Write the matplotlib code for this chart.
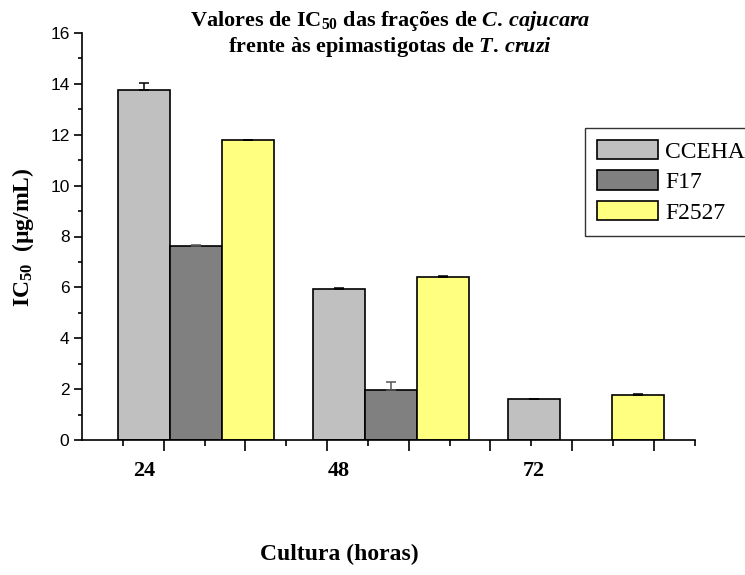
import numpy as np
import matplotlib.pyplot as plt
from matplotlib.ticker import FixedLocator, MultipleLocator

# IC50 values (ug/mL)
hours = ["24", "48", "72"]
series = ["CCEHA", "F17", "F2527"]
ccehA = [13.75, 5.93, 1.60]
f17 = [7.62, 1.97, np.nan]
f2527 = [11.78, 6.42, 1.78]
ccehA_err = [0.30, 0.03, 0.03]
f17_err = [0.05, 0.32, np.nan]
f2527_err = [0.03, 0.03, 0.03]

values = [ccehA, f17, f2527]
errors = [ccehA_err, f17_err, f2527_err]
colors = ["#c0c0c0", "#808080", "#ffff80"]
ecolors = ["black", "#555555", "black"]

plt.rcParams["font.family"] = "Liberation Serif"
plt.rcParams["mathtext.fontset"] = "custom"
plt.rcParams["mathtext.rm"] = "Liberation Serif:bold"
plt.rcParams["mathtext.it"] = "Liberation Serif:italic:bold"
plt.rcParams["mathtext.bf"] = "Liberation Serif:bold"

fig = plt.figure(figsize=(7.45, 5.75), dpi=100)
ax = fig.add_axes([82 / 745, 1 - 440 / 575, (695 - 82) / 745, (440 - 33) / 575])

w = 0.2667
x = np.arange(len(hours))
for i, (vals, errs) in enumerate(zip(values, errors)):
    pos = x + (i - 1) * w
    ax.bar(pos, vals, width=w, color=colors[i], edgecolor="black",
           linewidth=1.2, label=series[i], zorder=2)
    errs = np.array(errs)
    ax.errorbar(pos, vals, yerr=[np.zeros_like(errs), errs], fmt="none",
                ecolor=ecolors[i], elinewidth=1.1, capsize=3.6, capthick=1.1,
                zorder=3)

xmin, xmax = -0.585, 2.56
ax.set_xlim(xmin, xmax)
ax.set_ylim(0, 16)

ax.spines["top"].set_visible(False)
ax.spines["right"].set_visible(False)
for s in ["left", "bottom"]:
    ax.spines[s].set_linewidth(1.2)

# y axis
ax.yaxis.set_major_locator(MultipleLocator(2))
ax.yaxis.set_minor_locator(MultipleLocator(1))
ax.tick_params(axis="y", which="major", length=6, width=1.2, direction="out", pad=3)
ax.tick_params(axis="y", which="minor", length=3, width=1.2, direction="out")
for lab in ax.get_yticklabels():
    lab.set_fontfamily("Liberation Sans")
    lab.set_fontsize(12.5)

# x axis: plain tick marks, group labels on a secondary axis
step = 0.419
ax.xaxis.set_major_locator(FixedLocator(np.arange(xmin + step, xmax, step)))
ax.xaxis.set_minor_locator(FixedLocator(np.arange(xmin + step / 2, xmax, step)))
ax.set_xticklabels([])
ax.tick_params(axis="x", which="major", length=8, width=1.2, direction="out")
ax.tick_params(axis="x", which="minor", length=4, width=1.2, direction="out")

sec = ax.secondary_xaxis("bottom")
sec.set_xticks(x - w)
sec.set_xticklabels(hours, fontsize=16, fontweight="bold")
sec.tick_params(length=0, pad=15)
sec.spines["bottom"].set_visible(False)

fig.text(339 / 745, 1 - 554 / 575, "Cultura (horas)", ha="center", va="center",
         fontsize=17, fontweight="bold")
fig.text(23 / 745, 1 - 237 / 575, r"IC$_{50}$  (µg/mL)", ha="center", va="center",
         rotation=90, fontsize=17, fontweight="bold")

fig.text(390 / 745, 1 - 21 / 575,
         r"Valores de IC$_{50}$ das frações de $\mathit{C.\,cajucara}$",
         ha="center", va="center", fontsize=16, fontweight="bold")
fig.text(390 / 745, 1 - 47 / 575,
         r"frente às epimastigotas de $\mathit{T.\,cruzi}$",
         ha="center", va="center", fontsize=16, fontweight="bold")

leg = ax.legend(loc="upper left", bbox_to_anchor=(585 / 745, 1 - 128 / 575),
                bbox_transform=fig.transFigure, fontsize=17, frameon=True,
                fancybox=False, edgecolor="black", handlelength=2.6,
                handleheight=0.9, labelspacing=0.32, borderpad=0.5,
                handletextpad=0.3, borderaxespad=0)
leg.get_frame().set_linewidth(1.0)

fig.savefig("out.png", dpi=100)
